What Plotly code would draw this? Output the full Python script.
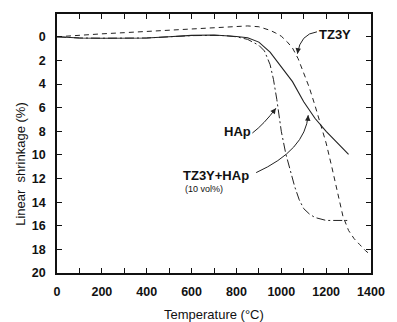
import plotly.graph_objects as go

# ---- data ----
t_tz3y = [0, 100, 200, 300, 400, 500, 600, 700, 800, 850, 900, 950, 975, 1000,
          1025, 1050, 1075, 1100, 1125, 1150, 1175, 1200, 1225, 1250, 1275,
          1300, 1325, 1350, 1375, 1400]
tz3y = [0, -0.15, -0.25, -0.35, -0.45, -0.55, -0.62, -0.75, -0.88, -0.92, -0.85,
        -0.55, -0.32, -0.05, 0.4, 0.95, 1.85, 3.0, 4.3, 5.8, 7.4, 9.0, 11.0, 13.2,
        15.2, 16.4, 17.1, 17.6, 18.1, 18.5]

t_hap = [0, 100, 200, 300, 400, 500, 600, 700, 750, 800, 850, 900, 925, 950,
         965, 980, 1000, 1020, 1040, 1060, 1080, 1100, 1125, 1150, 1200, 1250, 1305]
hap = [0, 0.1, 0.12, 0.12, 0.1, 0.0, -0.1, -0.12, -0.1, 0.0, 0.22, 0.72, 1.2, 2.35,
       3.6, 5.3, 8.0, 9.9, 11.3, 12.7, 13.8, 14.55, 15.0, 15.3, 15.55, 15.55, 15.55]

t_mix = [0, 100, 200, 300, 400, 500, 600, 700, 750, 800, 850, 900, 950, 1000,
         1050, 1100, 1150, 1200, 1250, 1300]
mix = [0, 0.1, 0.12, 0.12, 0.1, 0.0, -0.12, -0.15, -0.1, -0.02, 0.08, 0.45, 1.3,
       2.55, 3.8, 5.5, 6.9, 8.0, 8.95, 9.95]

x_ticks = list(range(0, 1401, 100))
x_ticktext = [str(v) if v % 200 == 0 else "" for v in x_ticks]
y_ticks = list(range(0, 21, 2))

FONT = "Liberation Sans, Arial, sans-serif"

fig = go.Figure()
fig.add_trace(go.Scatter(x=t_tz3y, y=tz3y, mode="lines", name="TZ3Y",
                         line=dict(color="#222", width=1, dash="5px,4px")))
fig.add_trace(go.Scatter(x=t_hap, y=hap, mode="lines", name="HAp",
                         line=dict(color="#222", width=1, dash="9px,3px,2px,3px")))
fig.add_trace(go.Scatter(x=t_mix, y=mix, mode="lines", name="TZ3Y+HAp",
                         line=dict(color="#222", width=1.1)))

# curved leader arrows: (start, control, end) in data coords
arrows = [
    ((1159, -0.42), (1085, -0.25), (1072, 1.43)),
    ((871, 8.15), (923, 7.4), (976, 6.05)),
    ((888, 11.5), (1107, 9.6), (1120, 6.64)),
]
for (x0, y0), (cx, cy), (x1, y1) in arrows:
    fig.add_shape(type="path", xref="x", yref="y",
                  path=f"M {x0},{y0} Q {cx},{cy} {x1},{y1}",
                  line=dict(color="#222", width=1))
    fig.add_annotation(x=x1, y=y1, ax=x1 - 0.2 * (x1 - cx), ay=y1 - 0.2 * (y1 - cy),
                       axref="x", ayref="y", xref="x", yref="y", text="",
                       showarrow=True, arrowhead=2, arrowsize=1.1, arrowwidth=1,
                       arrowcolor="#222")

labels = [
    ("TZ3Y", 1238, -0.17, 13, "bold"),
    ("HAp", 805, 8.05, 13, "bold"),
    ("TZ3Y+HAp", 710, 11.75, 13, "bold"),
    ("(10 vol%)", 655, 12.9, 9, "normal"),
]
for txt, x, y, sz, w in labels:
    fig.add_annotation(x=x, y=y, xref="x", yref="y", text=txt, showarrow=False,
                       font=dict(family=FONT, size=sz, color="#111", weight=w))

fig.add_annotation(text="Linear  shrinkage (%)", textangle=-90, xref="paper", yref="paper",
                   x=-0.116, y=0.42, xanchor="center", yanchor="middle", showarrow=False,
                   font=dict(family=FONT, size=13, color="#111"))
fig.add_annotation(text="Temperature (°C)", xref="paper", yref="paper",
                   x=0.5, y=-0.162, xanchor="center", yanchor="middle", showarrow=False,
                   font=dict(family=FONT, size=13, color="#111"))

axis_common = dict(showgrid=False, zeroline=False, showline=True, linecolor="#111",
                   linewidth=1.5, mirror="ticks", ticks="inside", ticklen=5,
                   tickwidth=1.2, tickcolor="#111",
                   tickfont=dict(family=FONT, size=12.5, color="#111", weight="bold"))
fig.update_xaxes(range=[0, 1400], tickvals=x_ticks, ticktext=x_ticktext,
                 ticklabelstandoff=6, **axis_common)
fig.update_yaxes(range=[20, -1.93], tickvals=y_ticks, ticklabelstandoff=7, **axis_common)

fig.update_layout(width=397, height=322, margin=dict(l=57, r=20, t=13, b=49),
                  plot_bgcolor="white", paper_bgcolor="white", showlegend=False,
                  font=dict(family=FONT))
fig.write_html("out.html")
